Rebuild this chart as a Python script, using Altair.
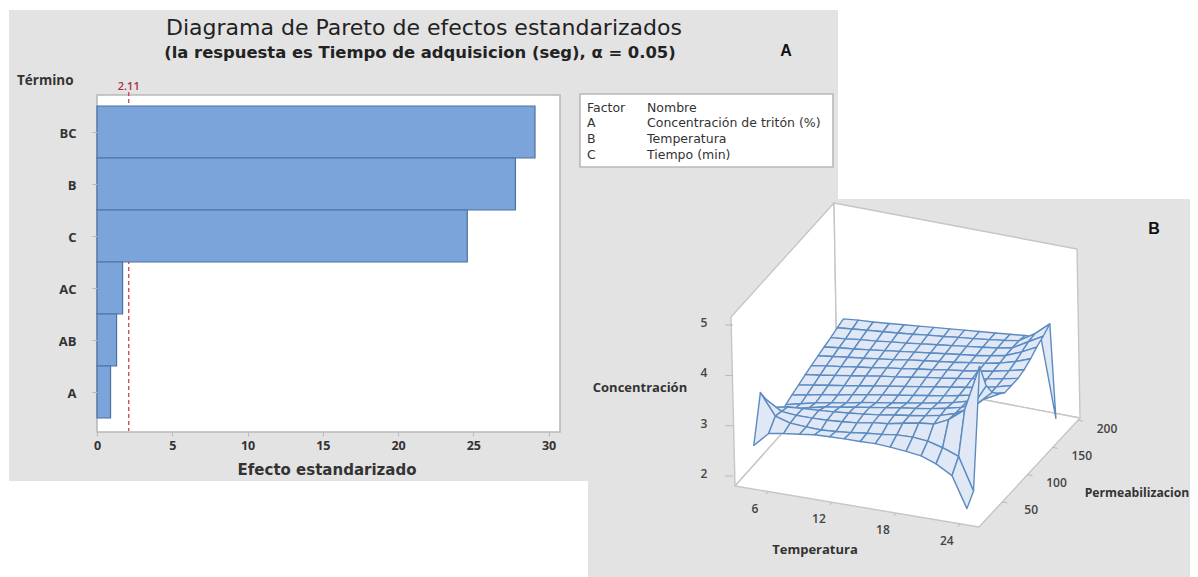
import altair as alt
import pandas as pd

# ---------- Pareto data ----------
terms = ["BC", "B", "C", "AC", "AB", "A"]
effects = [29.1, 27.8, 24.6, 1.7, 1.3, 0.9]
x_ticks = [0, 5, 10, 15, 20, 25, 30]
threshold = [2.11]
legend_factor = ["Factor", "A", "B", "C"]
legend_name = ["Nombre", "Concentración de tritón (%)", "Temperatura", "Tiempo (min)"]

# ---------- Surface data (Concentración read per node) ----------
temperatura = [4.0, 5.4, 6.8, 8.3, 9.7, 11.1, 12.5, 14.0, 15.4, 16.8, 18.3, 19.7, 21.1, 22.6, 24.0]
permeabilizacion = [18, 31, 43, 56, 68, 81, 93, 106, 119, 131, 144, 156, 169, 182, 194]
concentracion = [
    [2.49, 2.78, 2.83, 2.87, 2.91, 2.92, 2.93, 2.93, 2.94, 2.92, 2.89, 2.85, 2.74, 2.56, 1.95],
    [3.40, 2.98, 2.89, 2.87, 2.86, 2.88, 2.91, 2.95, 2.98, 3.02, 3.03, 3.00, 2.92, 2.80, 2.16],
    [3.12, 2.94, 2.91, 2.91, 2.92, 2.94, 2.97, 3.03, 3.06, 3.12, 3.18, 3.21, 3.35, 3.60, 4.52],
    [2.82, 2.88, 2.90, 2.92, 2.94, 2.97, 3.00, 3.04, 3.09, 3.13, 3.18, 3.24, 3.33, 3.50, 3.99],
    [2.53, 2.70, 2.78, 2.85, 2.90, 2.95, 3.00, 3.05, 3.10, 3.14, 3.19, 3.25, 3.32, 3.45, 3.73],
    [2.59, 2.66, 2.73, 2.79, 2.84, 2.90, 2.95, 3.00, 3.05, 3.10, 3.16, 3.22, 3.30, 3.40, 3.55],
    [2.65, 2.70, 2.76, 2.81, 2.87, 2.92, 2.97, 3.02, 3.07, 3.12, 3.17, 3.23, 3.29, 3.37, 3.45],
    [2.70, 2.75, 2.80, 2.85, 2.90, 2.95, 3.00, 3.05, 3.10, 3.15, 3.20, 3.25, 3.30, 3.37, 3.45],
    [2.76, 2.80, 2.85, 2.90, 2.95, 3.00, 3.04, 3.09, 3.14, 3.18, 3.23, 3.28, 3.33, 3.39, 3.45],
    [2.80, 2.85, 2.89, 2.94, 2.98, 3.03, 3.07, 3.12, 3.16, 3.21, 3.25, 3.30, 3.35, 3.42, 3.49],
    [2.85, 2.89, 2.93, 2.97, 3.01, 3.05, 3.10, 3.14, 3.18, 3.22, 3.27, 3.31, 3.37, 3.46, 3.57],
    [2.89, 2.93, 2.96, 3.00, 3.04, 3.08, 3.12, 3.16, 3.20, 3.24, 3.28, 3.33, 3.39, 3.52, 3.67],
    [2.93, 2.96, 3.00, 3.03, 3.07, 3.10, 3.14, 3.18, 3.22, 3.26, 3.30, 3.34, 3.40, 3.58, 3.75],
    [2.98, 3.01, 3.04, 3.07, 3.10, 3.13, 3.17, 3.20, 3.24, 3.27, 3.31, 3.35, 3.40, 3.60, 3.85],
    [3.02, 3.05, 3.07, 3.10, 3.13, 3.16, 3.19, 3.22, 3.25, 3.28, 3.31, 3.34, 3.37, 3.38, 1.83],
]
z_ticks = [2, 3, 4, 5]
t_ticks = [6, 12, 18, 24]
p_ticks = [50, 100, 150, 200]

W, H = 1182, 569
FONT = "DejaVu Sans"
INK = "#333333"
PANEL = "#e3e3e3"
BORDER = "#b9b9b9"


def px(v):
    return v - 8


# 3-D view: floor corners on the page
F00, F10, F11, F01 = (735, 486), (979, 527), (1080, 418), (837, 372)
Z_BASE, Z_PX = 1.8, 50.0
TOP_RISE = 169


def floor(u, v):
    x = (F00[0] * (1 - u) + F10[0] * u) * (1 - v) + (F01[0] * (1 - u) + F11[0] * u) * v
    y = (F00[1] * (1 - u) + F10[1] * u) * (1 - v) + (F01[1] * (1 - u) + F11[1] * u) * v
    return x, y


def t2u(t):
    return 0.135 + (t - 6) * 0.0437


def p2v(p):
    return 0.23 + (p - 50) * 0.005


def project(t, p, c):
    x, y = floor(t2u(t), p2v(p))
    return [px(x), px(y - (c - Z_BASE) * Z_PX)]


def rect(x0, y0, x1, y1, fill, stroke=None):
    kw = {"fill": fill}
    if stroke:
        kw.update(stroke=stroke, strokeWidth=1.6)
    else:
        kw.update(strokeWidth=0)
    return alt.Chart(pd.DataFrame({"a": [0]})).mark_rect(**kw).encode(
        x=alt.value(px(x0)), x2=alt.value(px(x1)), y=alt.value(px(y0)), y2=alt.value(px(y1))
    )


def label(text, x, y, size=12, weight="normal", align="center", font=FONT, color=INK):
    return alt.Chart(pd.DataFrame({"a": [0]})).mark_text(
        text=text, fontSize=size, fontWeight=weight, align=align, baseline="middle", font=font, color=color
    ).encode(x=alt.value(px(x)), y=alt.value(px(y)))


def polygon(points, fill, stroke):
    ring = [list(p) for p in points] + [list(points[0])]
    return {
        "type": "Feature",
        "properties": {"fill": fill, "stroke": stroke},
        "geometry": {"type": "Polygon", "coordinates": [ring]},
    }


def shapes(features, width):
    data = alt.InlineData(
        values={"type": "FeatureCollection", "features": features},
        format=alt.DataFormat(property="features", type="json"),
    )
    return (
        alt.Chart(data)
        .mark_geoshape(strokeWidth=width, strokeJoin="round")
        .encode(
            fill=alt.Color("properties.fill:N", scale=None),
            stroke=alt.Color("properties.stroke:N", scale=None),
        )
        .project(type="identity", scale=1, translate=[0, 0])
    )


# ---------- Pareto panel ----------
x_scale = alt.Scale(domain=[0, 30.76], range=[px(97), px(560)], nice=False, zero=False)
y_scale = alt.Scale(domain=terms, range=[px(106), px(418)], paddingInner=0, paddingOuter=0)
x_axis = alt.Axis(
    values=x_ticks, title=None, grid=False, offset=px(432) - H, domain=False, zindex=1, labelFlush=False,
    tickColor=BORDER, tickSize=4, labelFont="Open Sans", labelFontSize=12.5, labelFontWeight=700,
    labelColor=INK, labelPadding=3, format="d",
)
y_axis = alt.Axis(
    title=None, grid=False, offset=-px(97), domain=False, zindex=1, labelOffset=2,
    tickColor=BORDER, tickSize=5, labelFont="Open Sans", labelFontSize=13, labelFontWeight=700,
    labelColor=INK, labelPadding=16,
)

pareto_df = pd.DataFrame({"term": terms, "effect": effects})
bars = alt.Chart(pareto_df).mark_bar(color="#7ba4da", stroke="#4f719f", strokeWidth=1.2).encode(
    x=alt.X("effect:Q", scale=x_scale, axis=x_axis),
    y=alt.Y("term:N", scale=y_scale, sort=terms, axis=y_axis),
)
thr_line = alt.Chart(pd.DataFrame({"v": threshold})).mark_rule(
    color="#c8323c", strokeWidth=1.2, strokeDash=[4, 3]
).encode(x=alt.X("v:Q", scale=x_scale, axis=x_axis), y=alt.value(px(92)), y2=alt.value(px(431)))
thr_text = alt.Chart(pd.DataFrame({"v": threshold, "s": ["2.11"]})).mark_text(
    fontSize=11, font="Open Sans", color="#a5304a", baseline="middle", fontWeight=600
).encode(x=alt.X("v:Q", scale=x_scale, axis=x_axis), y=alt.value(px(87)), text="s:N")
pareto = alt.layer(thr_line, bars, thr_text)

# ---------- 3-D panel ----------
b00, b10, b11, b01 = F00, F10, F11, F01


def lift(p, dx=-3):
    return (p[0] + dx, p[1] - TOP_RISE)


box = [
    polygon([tuple(map(px, p)) for p in [b00, lift(b00, -4), lift(b01), b01]], "#ffffff", "#c6c6c6"),
    polygon([tuple(map(px, p)) for p in [b01, lift(b01), (1077, 249), b11]], "#ffffff", "#c6c6c6"),
    polygon([tuple(map(px, p)) for p in [b00, b01, b11, b10]], "#ffffff", "#c6c6c6"),
]
cells = []
for j in range(len(permeabilizacion) - 2, -1, -1):
    for i in range(len(temperatura) - 1):
        pts = [
            project(temperatura[i], permeabilizacion[j], concentracion[j][i]),
            project(temperatura[i + 1], permeabilizacion[j], concentracion[j][i + 1]),
            project(temperatura[i + 1], permeabilizacion[j + 1], concentracion[j + 1][i + 1]),
            project(temperatura[i], permeabilizacion[j + 1], concentracion[j + 1][i]),
        ]
        cells.append(polygon(pts, "#dfe8f4", "#5c8bc2"))

tick_rows = []
label_rows = []
for z in z_ticks:
    y = 476 - (z - 2) * 50.3
    tick_rows.append({"x": px(725), "y": px(y), "x2": px(733), "y2": px(y)})
    label_rows.append({"x": px(704), "y": px(y - 2), "s": str(z)})
for t in t_ticks:
    x, y = floor(t2u(t), 0)
    tick_rows.append({"x": px(x), "y": px(y), "x2": px(x - 2), "y2": px(y + 3)})
    label_rows.append({"x": px(x - 13), "y": px(y + 17), "s": str(t)})
for p in p_ticks:
    x, y = floor(1, p2v(p))
    tick_rows.append({"x": px(x), "y": px(y), "x2": px(x + 5), "y2": px(y + 1)})
    label_rows.append({"x": px(x + 29), "y": px(y + 8.5), "s": str(p)})

ticks3d = alt.Chart(pd.DataFrame(tick_rows)).mark_rule(color=BORDER, strokeWidth=1).encode(
    x=alt.X("x:Q", scale=None, axis=None), y=alt.Y("y:Q", scale=None, axis=None), x2="x2:Q", y2="y2:Q"
)
labels3d = alt.Chart(pd.DataFrame(label_rows)).mark_text(
    fontSize=12, font="Open Sans", color="#444444", baseline="middle", fontWeight=600
).encode(x=alt.X("x:Q", scale=None, axis=None), y=alt.Y("y:Q", scale=None, axis=None), text="s:N")

# ---------- Legend text ----------
legend_rows = [108, 123, 139, 155]
legend_labels = [label(s, 587, y, size=12.5, align="left") for s, y in zip(legend_factor, legend_rows)]
legend_labels += [label(s, 647, y, size=12.5, align="left") for s, y in zip(legend_name, legend_rows)]

chart = alt.layer(
    rect(9, 10, 838, 481, PANEL),
    rect(588, 199, 1198, 577, PANEL),
    rect(97, 95, 560, 432, "#ffffff", BORDER),
    rect(580, 94, 833, 167, "#ffffff", BORDER),
    pareto,
    label("Diagrama de Pareto de efectos estandarizados", 424, 28, size=22, color="#222222"),
    label("(la respuesta es Tiempo de adquisicion (seg), α = 0.05)", 420, 53, size=16.4, weight="bold", color="#222222"),
    label("Término", 17, 81, size=13.5, weight=700, align="left", font="Open Sans"),
    label("Efecto estandarizado", 327, 470, size=15, weight="bold"),
    *legend_labels,
    label("A", 786, 51, size=16, weight="bold", font="Liberation Sans", color="#111111"),
    label("B", 1154, 229, size=16, weight="bold", font="Liberation Sans", color="#111111"),
    shapes(box, 1.4),
    shapes(cells, 1.4),
    ticks3d,
    labels3d,
    label("Concentración", 640, 388, size=13, weight=700, font="Open Sans"),
    label("Temperatura", 815, 550, size=13, weight=700, font="Open Sans"),
    label("Permeabilizacion", 1137, 493, size=12.2, weight=700, font="Open Sans"),
).resolve_scale(x="independent", y="independent").resolve_axis(x="independent", y="independent").properties(
    width=W, height=H, padding=0, autosize=alt.AutoSizeParams(type="none")
).configure_view(stroke=None)

chart.save("out.html", embed_options={"renderer": "svg", "actions": False})
